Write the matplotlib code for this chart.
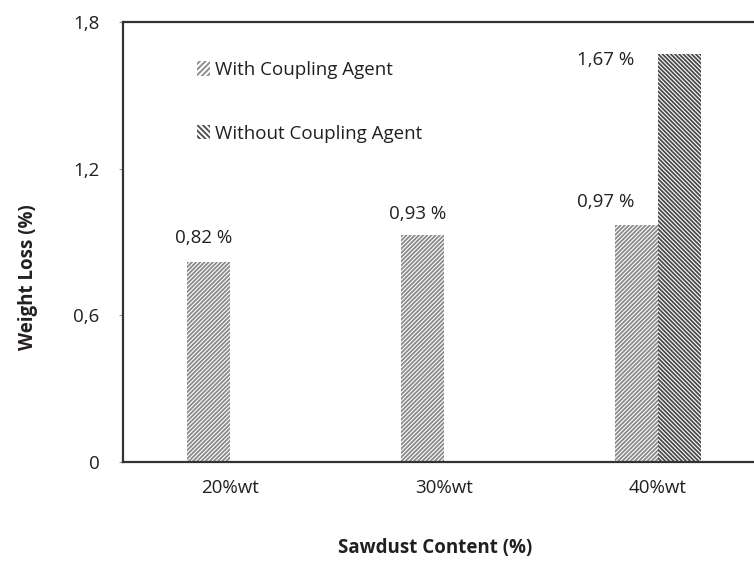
import numpy as np
import matplotlib
matplotlib.use("Agg")
import matplotlib.pyplot as plt
from matplotlib.patches import Patch

plt.rcParams['font.family'] = ['Open Sans', 'DejaVu Sans']
plt.rcParams['hatch.linewidth'] = 1.3

# data
categories = ["20%wt", "30%wt", "40%wt"]
with_agent = [0.82, 0.93, 0.97]
without_agent = [0.0, 0.0, 1.67]
value_labels = ["0,82 %", "0,93 %", "0,97 %", "1,67 %"]
yticks = [0, 0.6, 1.2, 1.8]
ytick_labels = ["0", "0,6", "1,2", "1,8"]

TXT = "#231f20"
W = 0.2
FS = 13.5

fig = plt.figure(figsize=(7.54, 5.61), dpi=100)
ax = fig.add_axes([123/754, 99/561, 642/754, 440/561])

x = np.arange(len(categories))
b1 = ax.bar(x - W/2, with_agent, W, color="white", edgecolor="#8a8a8a",
            hatch="////////", linewidth=0)
mask = np.array(without_agent) > 0
b2 = ax.bar(x[mask] + W/2, np.array(without_agent)[mask], W, color="white",
            edgecolor="#4a4a4a", hatch="\\\\\\\\\\\\\\\\", linewidth=0)

# value labels (positions tuned by eye)
lab_x = [x[0] - 0.125, x[1] - 0.125, x[2] - 0.245, x[2] - 0.245]
lab_y = [with_agent[0], with_agent[1], with_agent[2], without_agent[2]]
lab_dy = [0.095, 0.085, 0.095, -0.025]
for s, lx, ly, dy in zip(value_labels, lab_x, lab_y, lab_dy):
  ax.text(lx, ly + dy, s, ha="center", va="center", fontsize=FS, color=TXT)

ax.set_xlim(-0.5, 2.5)
ax.set_ylim(0, 1.8)
ax.set_xticks(x)
ax.set_xticklabels(categories, fontsize=FS, color=TXT)
ax.set_yticks(yticks)
ax.set_yticklabels(ytick_labels, fontsize=FS, color=TXT)
ax.tick_params(axis="x", length=0, pad=12)
ax.tick_params(axis="y", length=3, width=0.8, color="#999999", pad=14)

for s in ["left", "top", "bottom"]:
  ax.spines[s].set_linewidth(1.6)
  ax.spines[s].set_color("#333333")
ax.spines["right"].set_visible(False)

ax.set_xlabel("Sawdust Content (%)", fontsize=FS, fontweight="bold", color=TXT)
ax.xaxis.set_label_coords(0.486, -0.172)
ax.set_ylabel("Weight Loss (%)", fontsize=FS, fontweight="bold", color=TXT)
ax.yaxis.set_label_coords(-0.132, 0.42)

handles = [Patch(facecolor="white", edgecolor="#8a8a8a", hatch="//////", linewidth=0),
           Patch(facecolor="white", edgecolor="#4a4a4a", hatch="\\\\\\\\\\\\", linewidth=0)]
ax.legend(handles, ["With Coupling Agent", "Without Coupling Agent"],
          loc="upper left", bbox_to_anchor=(0.089, 0.95), frameon=False,
          handlelength=0.7, handleheight=0.8, handletextpad=0.25,
          labelspacing=2.45, fontsize=FS, labelcolor=TXT)

fig.savefig("out.png", dpi=100, facecolor="white")
